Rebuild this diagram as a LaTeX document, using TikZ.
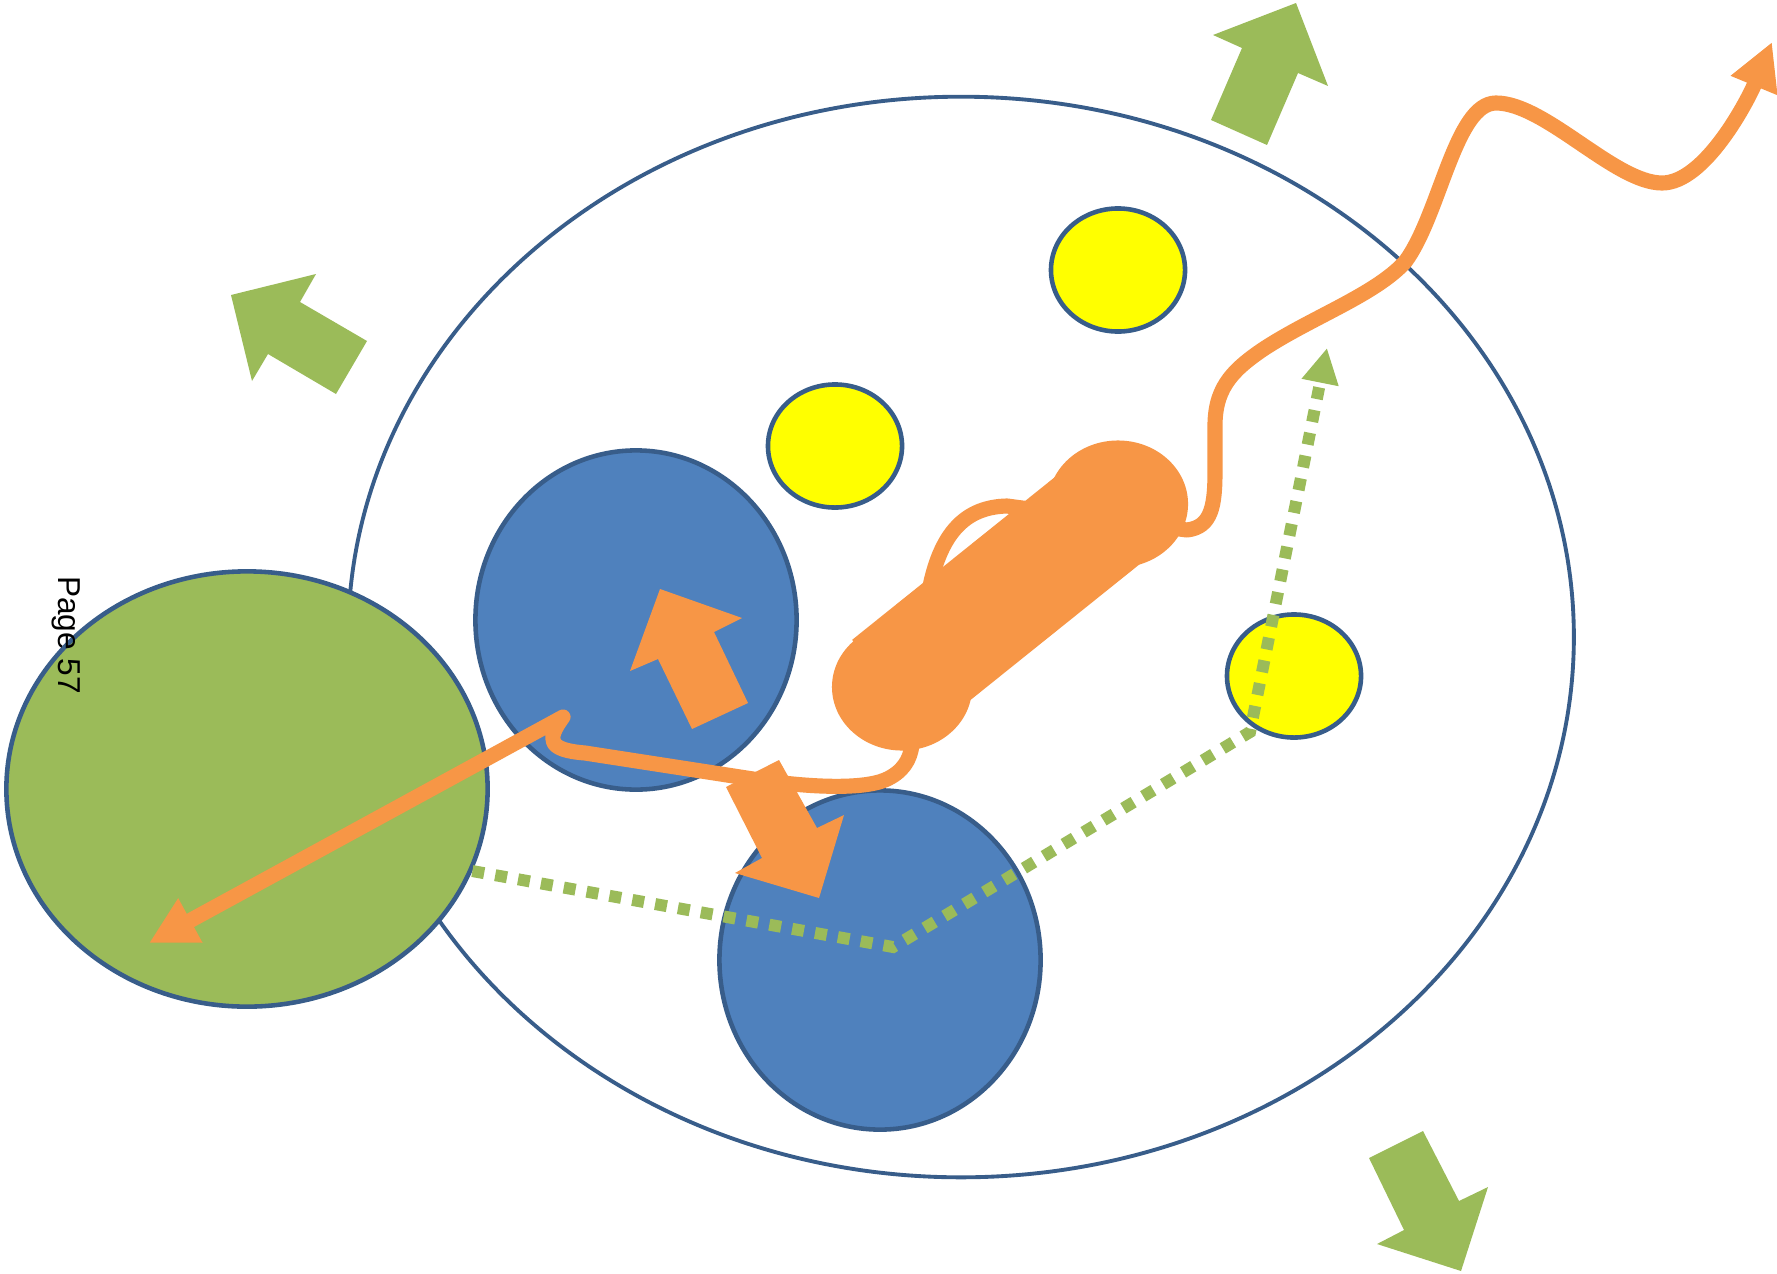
\documentclass[tikz,border=0pt]{standalone}
\usepackage{fontspec}
\setmainfont{Liberation Sans}
\usepackage{tikz}
\usetikzlibrary{shapes.geometric,arrows.meta}
\definecolor{cellblue}{HTML}{4F81BD}
\definecolor{rimblue}{HTML}{385D8A}
\definecolor{leafgreen}{HTML}{9BBB59}
\definecolor{pumporange}{HTML}{F79646}
\definecolor{dotyellow}{HTML}{FFFF00}
\tikzset{>=latex,
  cell/.style={ellipse, draw=rimblue, line width=1.3pt, inner sep=0pt},
  blob/.style={cell, fill=cellblue, minimum width=3.21cm, minimum height=3.39cm},
  grain/.style={cell, fill=dotyellow, minimum width=1.34cm, minimum height=1.23cm},
  bell/.style={ellipse, fill=pumporange, inner sep=0pt, minimum width=1.40cm, minimum height=1.27cm},
  wave/.style={draw=pumporange, line width=4.3pt, line join=round,
    arrows={Triangle[length=13.4pt,width=13.4pt]-Triangle[length=13.4pt,width=13.4pt]}},
  dotline/.style={draw=leafgreen, line width=3.4pt, dash pattern=on 3.4pt off 3.2pt,
    arrows={-Triangle[length=10pt,width=10pt]}},
  greenblock/.style={fill=leafgreen},
  orangeblock/.style={fill=pumporange}
}

\begin{document}
\begin{tikzpicture}[x=0.01cm,y=-0.01cm]
  \useasboundingbox (0,0) rectangle (1777,1273);
  % cell and what sits in it
  \node[cell, fill=white, line width=1.1pt, minimum width=12.25cm, minimum height=10.8cm] (outer) at (961,637) {};
  \node[cell, fill=leafgreen, minimum width=4.81cm, minimum height=4.35cm] (greenblob) at (247,789) {};
  \node[blob] (blueA) at (636,620) {};
  \node[blob] (blueB) at (880,960) {};
  \node[grain] (yelA) at (835,446) {};
  \node[grain] (yelB) at (1118,270) {};
  \node[grain] (yelC) at (1294,676) {};
  \coordinate (bendA) at (893,947);
  \coordinate (bendB) at (1250,732);
  \coordinate (dotend) at (1327,348);
  \coordinate (hookend) at (149,943);
  \coordinate (waveend) at (1772,42);
  % dotted way out
  \draw[dotline] (greenblob.-20) -- (bendA) -- (bendB) -- (dotend);
  % the long orange track
  \draw[wave] (hookend) -- (563,717) .. controls (546,740) and (548,750) .. (585,753)
    -- (753,779) .. controls (805,787) and (860,790) .. (885,780)
    .. controls (903,772) and (910,760) .. (912,745) -- (926,610)
    .. controls (935,540) and (960,507) .. (1007,506) -- (1187,530)
    .. controls (1212,527) and (1215,505) .. (1215,470) -- (1215,430)
    .. controls (1214,390) and (1230,372) .. (1262,350)
    .. controls (1310,318) and (1375,295) .. (1405,262)
    .. controls (1440,215) and (1455,103) .. (1496,103)
    .. controls (1545,103) and (1615,183) .. (1662,183)
    .. controls (1705,183) and (1748,100) .. (waveend);
  % block arrows inside
  \fill[orangeblock] (660,589) -- (742,618) -- (714,632) -- (748,703) -- (692,729) -- (658,659) -- (630,671) -- cycle;
  \fill[orangeblock] (726,787) -- (779,760) -- (817,828) -- (844,815) -- (819,898) -- (735,873) -- (762,858) -- cycle;
  % dumbbell
  \node[bell] (bellA) at (902,687) {};
  \node[bell] (bellB) at (1118,504) {};
  \coordinate (barL) at (890,687);
  \draw[pumporange, line width=34.4pt] (barL) -- (bellB.center);
  % arrows round the cell
  \fill[greenblock] (1296,3) -- (1328,86) -- (1298,73) -- (1267,145) -- (1211,120) -- (1242,48) -- (1213,35) -- cycle;
  \fill[greenblock] (231,295) -- (316,274) -- (300,302) -- (367,341) -- (336,394) -- (268,354) -- (252,381) -- cycle;
  \fill[greenblock] (1369,1158) -- (1423,1131) -- (1459,1201) -- (1488,1187) -- (1461,1271) -- (1377,1244) -- (1404,1230) -- cycle;
  \node[rotate=-90, font=\fontsize{9}{11}\selectfont, inner sep=0pt] (pagelabel) at (66,635) {Page 57};
\end{tikzpicture}
\end{document}
